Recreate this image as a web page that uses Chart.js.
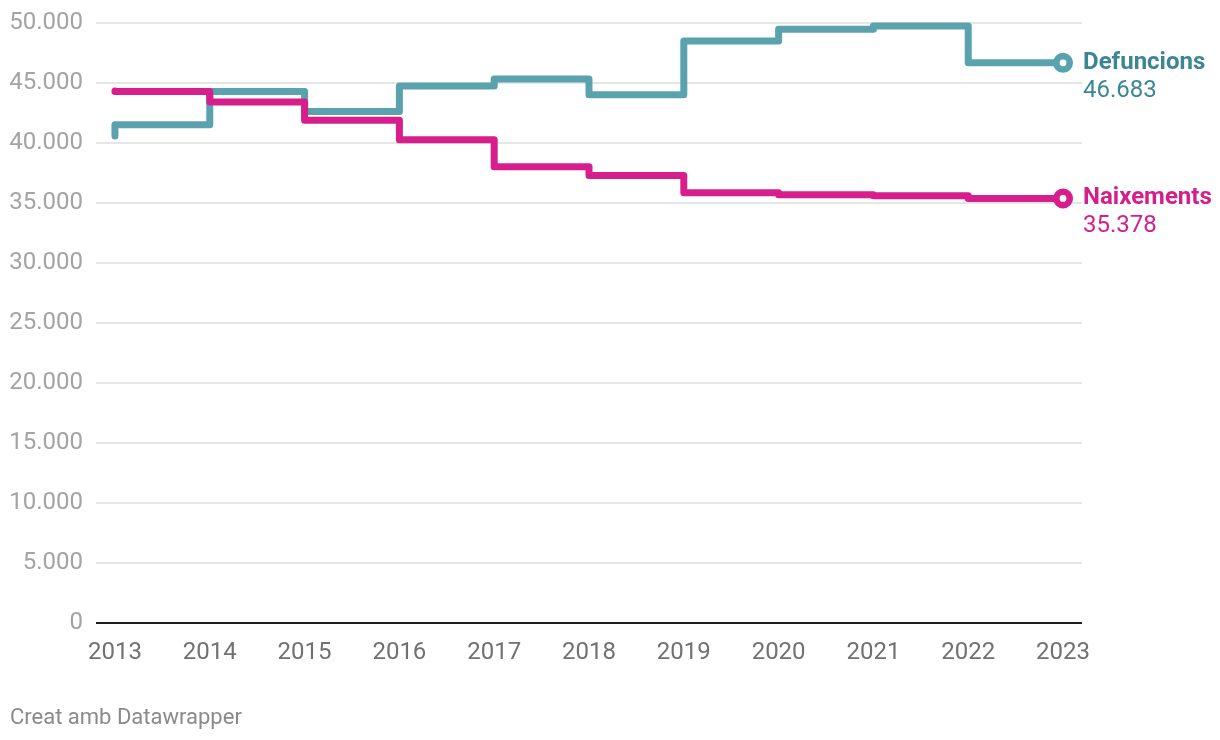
<!DOCTYPE html>
<html><head><meta charset="utf-8">
<script src="https://cdn.jsdelivr.net/npm/chart.js@4"></script>
<style>html,body{margin:0;padding:0;background:#fff;} #wrap{width:1220px;height:740px;position:relative}</style>
</head><body><div id="wrap"><canvas id="c" width="1220" height="740"></canvas></div>
<script>
const years = [2013, 2014, 2015, 2016, 2017, 2018, 2019, 2020, 2021, 2022, 2023];
const defuncions = [40580, 41520, 44300, 42630, 44750, 45330, 44030, 48500, 49470, 49750, 46683];
const naixements = [44330, 44300, 43420, 41900, 40280, 38030, 37300, 35850, 35690, 35610, 35378];
const yTicks = [0, 5000, 10000, 15000, 20000, 25000, 30000, 35000, 40000, 45000, 50000];
const seriesNames = ['Naixements', 'Defuncions'];
const footerText = 'Creat amb Datawrapper';

const lineColors = ['#d61f8c', '#5aa3ae'];
const labelColors = ['#d41f8b', '#3b8692'];
const FONT = 'Roboto';

function fmt(v) { return String(v).replace(/\B(?=(\d{3})+(?!\d))/g, '.'); }

const seriesData = [naixements, defuncions];
const last = years.length - 1;

const area = { left: 96, top: 23, right: 1082, bottom: 623 };

const fixAreaPlugin = {
  id: 'fixArea',
  afterLayout(chart) {
    const a = chart.chartArea;
    a.left = area.left; a.top = area.top; a.right = area.right; a.bottom = area.bottom;
    a.width = area.right - area.left; a.height = area.bottom - area.top;
    const y = chart.scales.y, x = chart.scales.x;
    y.left = 0; y.right = area.left; y.width = area.left;
    y.top = area.top; y.bottom = area.bottom; y.height = a.height;
    y.configure();
    x.left = area.left; x.right = area.right; x.width = a.width;
    x.top = area.bottom; x.bottom = area.bottom + 40; x.height = 40;
    x.configure();
  }
};

const labelsPlugin = {
  id: 'endLabels',
  afterDraw(chart) {
    const ctx = chart.ctx;
    ctx.save();
    chart.data.datasets.forEach((ds, i) => {
      const meta = chart.getDatasetMeta(i);
      const pt = meta.data[last];
      const x = pt.x + 20, y = pt.y;
      ctx.fillStyle = labelColors[i];
      ctx.textAlign = 'left';
      ctx.textBaseline = 'middle';
      ctx.font = 'bold 24px ' + FONT;
      ctx.fillText(seriesNames[i], x, y);
      ctx.font = '24px ' + FONT;
      ctx.fillText(fmt(seriesData[i][last]), x, y + 28);
    });
    ctx.font = '22px ' + FONT;
    ctx.fillStyle = '#8a8a8a';
    ctx.textBaseline = 'alphabetic';
    ctx.fillText(footerText, 10, 724);
    ctx.restore();
  }
};

const chart = new Chart(document.getElementById('c'), {
  type: 'line',
  data: {
    datasets: seriesData.map((arr, i) => ({
      label: seriesNames[i],
      data: years.map((yr, j) => ({ x: yr, y: arr[j] })),
      borderColor: lineColors[i],
      borderWidth: 7,
      stepped: 'after',
      borderCapStyle: 'round',
      borderJoinStyle: 'round',
      pointRadius: ctx => ctx.dataIndex === last ? 6.7 : 0,
      pointHoverRadius: ctx => ctx.dataIndex === last ? 6.7 : 0,
      pointBorderWidth: 6.6,
      pointBackgroundColor: '#ffffff',
      pointBorderColor: lineColors[i],
      clip: false,
      fill: false
    }))
  },
  options: {
    responsive: false,
    animation: false,
    devicePixelRatio: 1,
    layout: { padding: { top: 23, right: 138, bottom: 77, left: 0 } },
    plugins: { legend: { display: false }, tooltip: { enabled: false } },
    scales: {
      x: {
        type: 'linear',
        min: 2012.8,
        max: 2023.2,
        afterBuildTicks: s => { s.ticks = years.map(v => ({ value: v })); },
        afterFit: s => { s.height = 40; },
        grid: { display: false },
        border: { display: false },
        ticks: {
          autoSkip: false, maxRotation: 0, padding: 8,
          color: '#717171',
          font: { family: FONT, size: 24 },
          callback: v => String(v)
        }
      },
      y: {
        min: 0,
        max: 50000,
        afterBuildTicks: s => { s.ticks = yTicks.map(v => ({ value: v })); },
        afterFit: s => { s.width = 96; },
        grid: {
          drawTicks: false,
          color: c => c.tick && c.tick.value === 0 ? '#1e1e1e' : '#e6e6e6',
          lineWidth: 2
        },
        border: { display: false },
        ticks: {
          padding: 13,
          color: '#a3a3a3',
          font: { family: FONT, size: 24 },
          callback: v => fmt(v)
        }
      }
    }
  },
  plugins: [fixAreaPlugin, labelsPlugin]
});
</script>
</body></html>
